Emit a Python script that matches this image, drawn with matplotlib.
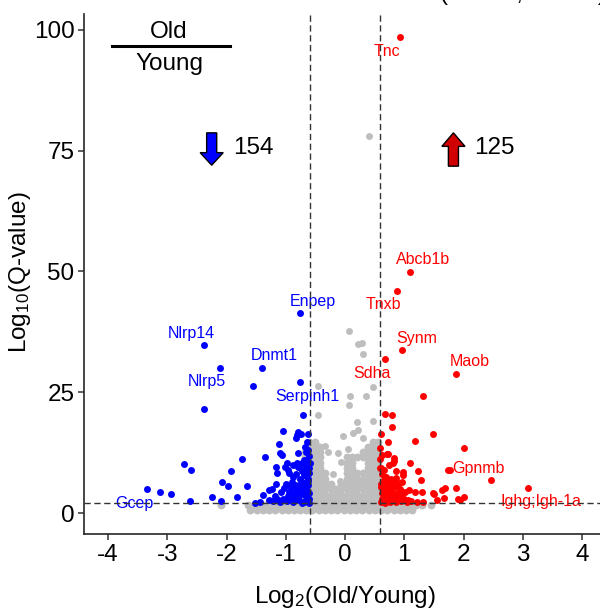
import matplotlib
matplotlib.use("Agg")
import matplotlib.pyplot as plt
from matplotlib.patches import FancyArrow

plt.rcParams["font.family"] = ["Liberation Sans", "DejaVu Sans"]
plt.rcParams["mathtext.default"] = "regular"
plt.rcParams["axes.unicode_minus"] = False

# --- data: (log2 fold change, -log10 q) ---
down_pts = [
    (-0.76, 41.4), (-2.38, 34.8), (-1.40, 30.0), (-2.11, 30.0), (-1.55, 26.3),
    (-2.38, 21.5), (-0.76, 27.1), (-0.71, 20.3),
    (-3.34, 5.0), (-3.12, 4.3), (-2.93, 3.9), (-2.71, 10.1), (-2.60, 9.0),
    (-2.61, 2.5), (-2.24, 3.4), (-2.10, 2.5), (-2.07, 6.4), (-1.97, 5.7),
    (-1.93, 8.8), (-1.83, 3.4), (-1.73, 11.2), (-1.65, 5.7), (-1.52, 2.1),
    (-1.43, 2.3), (-1.39, 3.7), (-1.35, 11.7), (-1.29, 2.7), (-1.24, 4.9),
    (-1.17, 6.0), (-1.14, 8.2), (-1.12, 14.3), (-1.10, 12.5), (-1.07, 12.0),
    (-1.04, 17.0), (-1.01, 9.6), (-0.98, 10.3), (-0.97, 8.9), (-1.00, 6.0),
    (-0.90, 6.5), (-0.87, 7.5), (-0.84, 5.8), (-0.81, 16.1), (-0.79, 16.8),
    (-0.74, 16.4), (-0.63, 16.3), (-0.80, 12.4), (-0.81, 10.3), (-0.79, 9.6),
    (-0.73, 10.4), (-0.67, 13.7), (-0.66, 12.7), (-0.66, 11.0), (-0.65, 8.9),
    (-0.69, 7.9), (-0.76, 7.0), (-0.72, 6.5), (-0.62, 13.0), (-0.59, 10.3),
    (-0.70, 11.0), (-0.87, 9.9), (-0.78, 9.6), (-1.16, 9.6), (-0.94, 8.2),
    (-1.28, 4.8),
    (-0.98, 2.4), (-0.93, 3.1), (-0.88, 2.2), (-0.83, 3.5), (-0.78, 2.6),
    (-0.74, 3.9), (-0.69, 2.3), (-0.64, 3.2), (-0.61, 2.1), (-0.95, 4.4),
    (-0.89, 4.9), (-0.85, 4.2), (-0.80, 4.7), (-0.75, 5.3), (-0.70, 4.5),
    (-0.65, 5.0), (-0.61, 4.1), (-0.92, 5.6), (-0.78, 5.9), (-0.68, 6.1),
    (-0.62, 5.8), (-0.63, 7.1), (-0.66, 9.6), (-0.60, 8.3), (-0.72, 8.6),
    (-0.82, 8.0), (-1.05, 3.0), (-1.10, 2.2), (-1.08, 4.3), (-1.03, 5.1),
    (-1.18, 3.6), (-1.21, 2.4), (-1.14, 2.9), (-0.60, 2.9), (-0.62, 6.6),
    (-0.67, 3.8), (-0.72, 2.1), (-0.86, 2.8), (-0.97, 3.6), (-0.90, 3.8),
    (-0.76, 4.3), (-0.66, 2.6), (-0.61, 9.4), (-0.61, 11.8), (-0.64, 14.8),
    (-0.82, 15.5),
]

up_pts = [
    (0.93, 98.6), (1.10, 49.9), (0.87, 46.0), (0.97, 33.7), (0.68, 31.9),
    (1.87, 28.8), (1.74, 8.9), (3.09, 5.2),
    (1.32, 24.2), (0.68, 20.5), (0.79, 20.3), (0.79, 17.9), (0.61, 16.3),
    (1.49, 16.4), (1.18, 14.9), (0.73, 14.8), (2.01, 13.5), (0.59, 13.4),
    (0.71, 12.2), (0.83, 11.4), (0.83, 10.8), (0.59, 11.1), (1.10, 10.4),
    (0.60, 9.4), (0.98, 8.5), (0.98, 7.9), (0.86, 7.2), (1.28, 6.8),
    (1.77, 9.0), (2.46, 6.8), (0.97, 6.4), (1.69, 5.1), (1.87, 5.1),
    (1.50, 3.9), (1.67, 3.2), (1.91, 3.0), (2.01, 3.3), (1.94, 2.8),
    (1.18, 4.3), (1.30, 4.3), (1.21, 2.3), (1.32, 2.3), (1.56, 2.7),
    (1.08, 4.8), (1.63, 4.8), (1.49, 4.2), (1.24, 8.8), (0.72, 12.2),
    (0.81, 10.4), (0.59, 9.3), (0.86, 8.8),
    (0.60, 2.3), (0.64, 3.1), (0.68, 2.1), (0.72, 3.6), (0.77, 2.5),
    (0.81, 3.3), (0.86, 2.2), (0.90, 2.9), (0.95, 2.4), (1.00, 3.0),
    (1.04, 2.2), (0.62, 4.2), (0.66, 5.0), (0.70, 4.4), (0.74, 5.6),
    (0.78, 4.7), (0.83, 5.3), (0.88, 4.1), (0.92, 4.9), (0.97, 3.8),
    (1.02, 4.4), (0.61, 6.0), (0.65, 6.8), (0.69, 7.5), (0.63, 8.1),
    (0.73, 6.4), (0.78, 7.0), (0.80, 6.1), (0.90, 5.9), (0.62, 2.9),
    (0.70, 3.0), (0.75, 3.9), (0.84, 4.0), (0.93, 3.4), (1.06, 2.6),
    (1.12, 2.4), (0.61, 5.3), (0.68, 5.8), (0.76, 2.2), (0.86, 6.6),
    (0.66, 9.0), (0.74, 9.9), (0.62, 12.0),
]

# non-significant proteins, typed row by row (y level -> x positions)
grey_rows = {
    0.7: [-1.60, -1.49, -1.39, -1.28, -1.18, -1.07, -0.97, -0.86, -0.76, -0.65,
          -0.55, -0.44, -0.34, -0.23, -0.13, -0.02, 0.08, 0.19, 0.29, 0.40,
          0.50, 0.61, 0.71, 0.82, 0.92, 1.03, 1.13],
    1.6: [-2.10, -1.64, -1.54, -1.44, -1.33, -1.23, -1.12, -1.02, -0.91, -0.81,
          -0.70, -0.60, -0.49, -0.39, -0.28, -0.18, -0.07, 0.03, 0.14, 0.24,
          0.35, 0.45, 0.56, 0.66, 0.77, 0.87, 0.98, 1.08, 1.19, 1.30, 1.45],
    2.7: [-0.68, -0.60, -0.51, -0.42, -0.33, -0.24, -0.15, -0.06, 0.03, 0.12,
          0.21, 0.30, 0.39, 0.48, 0.56],
    3.8: [-0.68, -0.60, -0.51, -0.42, -0.33, -0.24, -0.15, -0.06, 0.03, 0.12,
          0.21, 0.30, 0.39, 0.48, 0.56],
    4.9: [-0.68, -0.60, -0.51, -0.42, -0.33, -0.24, -0.15, -0.06, 0.03, 0.12,
          0.21, 0.30, 0.39, 0.48, 0.56],
    6.0: [-0.68, -0.60, -0.51, -0.42, -0.33, -0.24, -0.06, 0.03, 0.12, 0.21,
          0.30, 0.39, 0.48, 0.56],
    7.1: [-0.68, -0.60, -0.51, -0.42, -0.33, 0.03, 0.12, 0.21, 0.30, 0.39,
          0.48, 0.56],
    8.2: [-0.68, -0.60, -0.51, -0.42, -0.33, 0.03, 0.12, 0.21, 0.30, 0.39,
          0.48, 0.56],
    9.3: [-0.68, -0.60, -0.51, -0.42, 0.03, 0.12, 0.39, 0.48, 0.56],
    10.4: [-0.68, -0.60, -0.51, -0.42, 0.03, 0.12, 0.39, 0.48, 0.56],
    11.5: [-0.68, -0.60, -0.51, -0.42, 0.03, 0.12, 0.21, 0.30, 0.39, 0.48, 0.56],
    12.6: [-0.68, -0.60, -0.51, -0.42, 0.30, 0.39, 0.48, 0.56],
    13.7: [-0.60, -0.51, -0.42, 0.39, 0.48, 0.56],
    14.7: [-0.60, -0.51, 0.48, 0.56],
}
grey_scatter = [
    (0.40, 78.1), (0.07, 37.7), (0.22, 35.0), (0.28, 35.1), (0.31, 32.9),
    (0.47, 26.1), (0.08, 24.2), (0.35, 24.2), (0.06, 22.4), (-0.45, 26.3),
    (-0.45, 20.3), (0.20, 18.9), (0.47, 19.0), (0.13, 16.6), (0.22, 17.2),
    (-0.03, 15.9), (-0.34, 13.9), (-0.28, 12.7), (-0.11, 12.4), (-0.06, 10.6),
    (-0.08, 6.6), (-0.20, 8.0), (0.30, 15.6), (0.05, 13.3),
]

down_genes = ["Enpep", "Nlrp14", "Dnmt1", "Nlrp5", "Serpinh1", "Gcep"]
down_lab_x = [-0.54, -2.60, -1.19, -2.33, -0.64, -3.55]
down_lab_y = [43.7, 37.2, 32.7, 27.2, 24.1, 2.0]

up_genes = ["Tnc", "Abcb1b", "Tnxb", "Synm", "Sdha", "Maob", "Gpnmb", "Ighg;Igh-1a"]
up_lab_x = [0.70, 1.32, 0.65, 1.21, 0.45, 2.10, 2.25, 3.31]
up_lab_y = [95.5, 52.4, 43.1, 36.2, 28.9, 31.3, 9.2, 2.4]

n_down, n_up = 154, 125
fc_cut = 0.585   # log2(1.5)
q_cut = 2.0      # -log10(0.01)

BLUE, RED, GREY = "#0000FF", "#FF0000", "#BEBEBE"

fig = plt.figure(figsize=(6, 6.09), dpi=100)
ax = fig.add_axes([84.3 / 600, (609 - 534.3) / 609,
                   (605.7 - 84.3) / 600, (534.3 - 14) / 609])

gx, gy = [], []
for yv, xs in grey_rows.items():
    for xv in xs:
        gx.append(xv)
        gy.append(yv)
# the dense cloud uses slightly larger dots so it reads as one solid mass
ax.scatter(gx, gy, s=32, color=GREY, linewidths=0, zorder=2)
ax.scatter([p[0] for p in grey_scatter], [p[1] for p in grey_scatter],
           s=25, color=GREY, linewidths=0, zorder=2)

ax.scatter([p[0] for p in down_pts], [p[1] for p in down_pts],
           s=25, color=BLUE, linewidths=0, zorder=3)
ax.scatter([p[0] for p in up_pts], [p[1] for p in up_pts],
           s=25, color=RED, linewidths=0, zorder=3)

for g, x, y in zip(down_genes, down_lab_x, down_lab_y):
    ax.text(x, y, g, color=BLUE, fontsize=11.5, ha="center", va="center", zorder=4)
for g, x, y in zip(up_genes, up_lab_x, up_lab_y):
    ax.text(x, y, g, color=RED, fontsize=11.5, ha="center", va="center", zorder=4)

dash = dict(color="0.2", lw=1.0, ls=(0, (4.5, 2.6)), zorder=5)
ax.axvline(-fc_cut, **dash)
ax.axvline(fc_cut, **dash)
ax.axhline(q_cut, **dash)

# Old / Young fraction
ax.text(-2.97, 99.6, "Old", fontsize=17.5, ha="center", va="center")
ax.plot([-3.93, -1.94], [96.7, 96.7], color="black", lw=2.2, clip_on=False)
ax.text(-2.97, 93.0, "Young", fontsize=17.5, ha="center", va="center")

# counts with arrows
ax.add_patch(FancyArrow(-2.25, 78.7, 0, -6.7, width=0.17, head_width=0.39,
                        head_length=2.6, length_includes_head=True,
                        facecolor=BLUE, edgecolor="black", lw=1.0, zorder=6))
ax.text(-1.89, 75.6, str(n_down), fontsize=17.5, ha="left", va="center")
ax.add_patch(FancyArrow(1.83, 71.8, 0, 6.9, width=0.17, head_width=0.39,
                        head_length=2.8, length_includes_head=True,
                        facecolor="#D00000", edgecolor="black", lw=1.0, zorder=6))
ax.text(2.18, 75.6, str(n_up), fontsize=17.5, ha="left", va="center")

ax.set_xlim(-4.4, 4.4)
ax.set_ylim(-4.4, 103.3)
ax.set_xticks(range(-4, 5))
ax.set_yticks([0, 25, 50, 75, 100])
ax.tick_params(labelsize=17.5, length=4, width=1.1, color="0.2", pad=3,
               labelcolor="black")
for side in ["top", "right"]:
    ax.spines[side].set_visible(False)
for side in ["left", "bottom"]:
    ax.spines[side].set_linewidth(1.2)
    ax.spines[side].set_color("0.15")

fig.text(20 / 600, (609 - 272) / 609, r"Log$_{10}$(Q-value)", fontsize=17.5,
         rotation=90, ha="center", va="center")
fig.text(345 / 600, (609 - 597) / 609, r"Log$_{2}$(Old/Young)", fontsize=17.5,
         ha="center", va="center")
# title sits mostly above the canvas, as in the cropped original
fig.text(440 / 600, 1.0, "(n = 10, n = 10)", fontsize=17.5,
         ha="left", va="baseline")

fig.savefig("out.png", dpi=100)
